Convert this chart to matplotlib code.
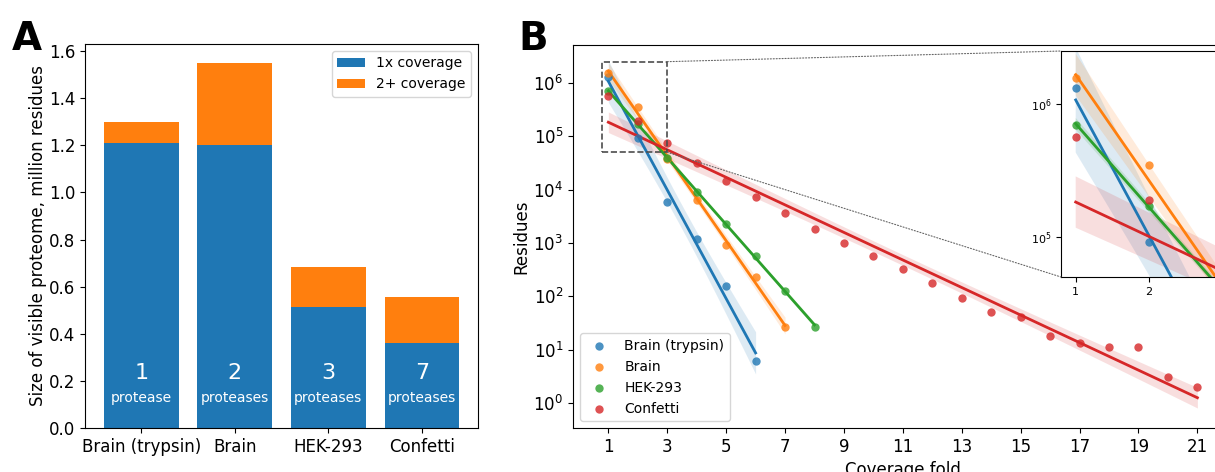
import numpy as np
import matplotlib
matplotlib.use("Agg")
import matplotlib.pyplot as plt
from matplotlib.patches import Rectangle, ConnectionPatch

# panel A: visible proteome, million residues
samples = ["Brain (trypsin)", "Brain", "HEK-293", "Confetti"]
cov_1x = [1.21, 1.20, 0.515, 0.36]
cov_2plus = [0.09, 0.35, 0.17, 0.195]
n_proteases = ["1", "2", "3", "7"]
protease_words = ["protease", "proteases", "proteases", "proteases"]

# panel B: residues per coverage fold
fold_trypsin = [1, 2, 3, 4, 5, 6]
res_trypsin = [1.31e6, 9.2e4, 5.8e3, 1.19e3, 158, 6.1]
fold_brain = [1, 2, 3, 4, 5, 6, 7]
res_brain = [1.56e6, 3.47e5, 3.7e4, 6.3e3, 906, 230, 27]
fold_hek = [1, 2, 3, 4, 5, 6, 7, 8]
res_hek = [6.9e5, 1.70e5, 3.9e4, 9.0e3, 2.3e3, 580, 126, 26.5]
fold_confetti = list(range(1, 22))
res_confetti = [5.6e5, 1.91e5, 7.5e4, 3.2e4, 1.46e4, 7.2e3, 3.6e3, 1.8e3, 986, 570,
                330, 175, 94, 51, 40, 18.2, 13.1, 11.1, 11.1, 3.0, 2.0]

series = [
    ("Brain (trypsin)", fold_trypsin, res_trypsin, "tab:blue"),
    ("Brain", fold_brain, res_brain, "tab:orange"),
    ("HEK-293", fold_hek, res_hek, "tab:green"),
    ("Confetti", fold_confetti, res_confetti, "tab:red"),
]

# two-sided 95% t quantiles by degrees of freedom
t95 = {4: 2.776, 5: 2.571, 6: 2.447, 19: 2.093}


def log_fit(x, y):
    x = np.asarray(x, float)
    ly = np.log10(np.asarray(y, float))
    slope, icpt = np.polyfit(x, ly, 1)
    n = len(x)
    resid = ly - (icpt + slope * x)
    s = np.sqrt(np.sum(resid ** 2) / (n - 2))
    sxx = np.sum((x - x.mean()) ** 2)
    grid = np.linspace(x.min(), x.max(), 100)
    fit = icpt + slope * grid
    half = t95[n - 2] * s * np.sqrt(1 / n + (grid - x.mean()) ** 2 / sxx)
    return grid, 10 ** fit, 10 ** (fit - half), 10 ** (fit + half)


def draw_series(ax, s=36):
    for label, x, y, color in series:
        grid, fit, lo, hi = log_fit(x, y)
        ax.scatter(x, y, s=s, color=color, alpha=0.8, lw=0, label=label, zorder=3)
        ax.plot(grid, fit, color=color, lw=2, zorder=2)
        ax.fill_between(grid, lo, hi, color=color, alpha=0.15, lw=0, zorder=1)


fig = plt.figure(figsize=(12.15, 4.72), dpi=100)

# ---- panel A
axA = fig.add_axes([0.070, 0.0932, 0.3235, 0.8136])
xpos = np.arange(len(samples))
axA.bar(xpos, cov_1x, width=0.8, color="tab:blue", label="1x coverage")
axA.bar(xpos, cov_2plus, width=0.8, bottom=cov_1x, color="tab:orange", label="2+ coverage")
for i in xpos:
    axA.text(i, 0.234, n_proteases[i], color="white", fontsize=16, ha="center", va="center")
    axA.text(i, 0.128, protease_words[i], color="white", fontsize=10, ha="center", va="center")
axA.set_xticks(xpos)
axA.set_xticklabels(samples, fontsize=12)
axA.set_xlim(-0.6, 3.6)
axA.set_ylim(0, 1.63)
axA.tick_params(axis="y", labelsize=12)
axA.set_ylabel("Size of visible proteome, million residues", fontsize=12, labelpad=1)
axA.legend(loc="upper right", fontsize=10)

# ---- panel B
axB = fig.add_axes([0.4716, 0.0932, 0.543, 0.8114])
draw_series(axB)
axB.set_yscale("log")
axB.set_ylim(10 ** -0.47, 10 ** 6.71)
axB.set_xlim(-0.2, 22.2)
axB.set_xticks(range(1, 22, 2))
axB.yaxis.set_minor_locator(matplotlib.ticker.NullLocator())
axB.tick_params(labelsize=12)
axB.set_xlabel("Coverage fold", fontsize=12)
axB.set_ylabel("Residues", fontsize=12, labelpad=2)
axB.legend(loc="lower left", fontsize=10, scatterpoints=1)

# zoomed inset
zx, zy = (0.8, 3.0), (5e4, 2.5e6)
axI = fig.add_axes([0.8733, 0.4131, 0.1325, 0.4788])
draw_series(axI)
axI.set_yscale("log")
axI.set_xlim(*zx)
axI.set_ylim(*zy)
axI.set_xticks([1, 2, 3])
axI.yaxis.set_minor_locator(matplotlib.ticker.NullLocator())
axI.tick_params(labelsize=8)

axB.add_patch(Rectangle((zx[0], zy[0]), zx[1] - zx[0], zy[1] - zy[0], fill=False,
                        ls="--", lw=1.2, ec="0.3", zorder=4))
for yv, iy in [(zy[1], 1), (zy[0], 0)]:
    con = ConnectionPatch(xyA=(zx[1], yv), coordsA=axB.transData,
                          xyB=(0, iy), coordsB=axI.transAxes,
                          ls=":", lw=0.8, color="0.4")
    fig.add_artist(con)

fig.text(0.010, 0.958, "A", fontsize=28, fontweight="bold", va="top")
fig.text(0.427, 0.958, "B", fontsize=28, fontweight="bold", va="top")

fig.savefig("out.png", dpi=100)
